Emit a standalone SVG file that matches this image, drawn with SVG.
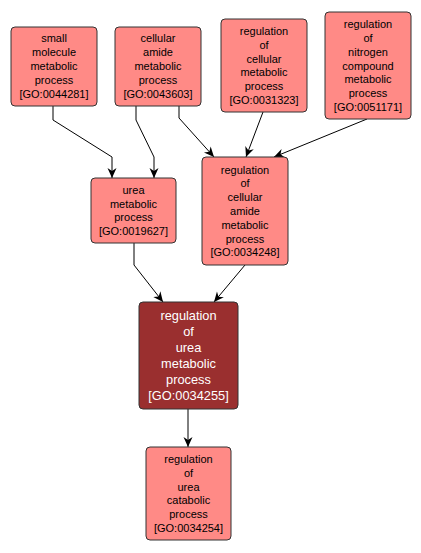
<svg xmlns="http://www.w3.org/2000/svg" width="421" height="553" viewBox="0 0 421 553">
<defs>
<style>
.n rect{fill:#ff8a86;stroke:#333;stroke-width:1}
.n text{font-family:"Liberation Sans",Arial,sans-serif;font-size:11px;fill:#000;text-anchor:middle}
.m rect{fill:#9a2f2f;stroke:#333;stroke-width:1}
.m text{font-family:"Liberation Sans",Arial,sans-serif;font-size:12.8px;fill:#fff;text-anchor:middle}
.e path{fill:none;stroke:#000;stroke-width:1;marker-end:url(#ah)}
</style>
<marker id="ah" markerUnits="userSpaceOnUse" viewBox="-11 -6 12 12" refX="0" refY="0" markerWidth="12" markerHeight="12" orient="auto">
<path d="M0,0 L-10,-4.5 L-7,0 L-10,4.5 Z" fill="#000"/>
</marker>
</defs>
<rect width="421" height="553" fill="#fff"/>
<g id="edges" class="e">
<path d="M53,105 L53,120 L112,157 L112,178"/>
<path d="M136,105 L136,120 L154,157 L154,178"/>
<path d="M179,105 L179,118 L214,157"/>
<path d="M263,112 L246,157"/>
<path d="M367,119 L274,157"/>
<path d="M134,243 L134,265 L163,302"/>
<path d="M245,265 L214,302"/>
<path d="M188,409 L188,447"/>
</g>
<g id="GO0044281" class="n">
<rect x="11" y="27" width="86" height="79" rx="4"/>
<text><tspan x="54" y="42.4">small</tspan><tspan x="54" y="56.2">molecule</tspan><tspan x="54" y="70">metabolic</tspan><tspan x="54" y="83.8">process</tspan><tspan x="54" y="97.6">[GO:0044281]</tspan></text>
</g>
<g id="GO0043603" class="n">
<rect x="115" y="27" width="86" height="79" rx="4"/>
<text><tspan x="158" y="42.4">cellular</tspan><tspan x="158" y="56.2">amide</tspan><tspan x="158" y="70">metabolic</tspan><tspan x="158" y="83.8">process</tspan><tspan x="158" y="97.6">[GO:0043603]</tspan></text>
</g>
<g id="GO0031323" class="n">
<rect x="221" y="19" width="86" height="93" rx="4"/>
<text><tspan x="264" y="35">regulation</tspan><tspan x="264" y="48.8">of</tspan><tspan x="264" y="62.6">cellular</tspan><tspan x="264" y="76.4">metabolic</tspan><tspan x="264" y="90.2">process</tspan><tspan x="264" y="104">[GO:0031323]</tspan></text>
</g>
<g id="GO0051171" class="n">
<rect x="325" y="12" width="86" height="107" rx="4"/>
<text><tspan x="368" y="28.1">regulation</tspan><tspan x="368" y="41.9">of</tspan><tspan x="368" y="55.7">nitrogen</tspan><tspan x="368" y="69.5">compound</tspan><tspan x="368" y="83.3">metabolic</tspan><tspan x="368" y="97.1">process</tspan><tspan x="368" y="110.9">[GO:0051171]</tspan></text>
</g>
<g id="GO0019627" class="n">
<rect x="91" y="178" width="85" height="65" rx="4"/>
<text><tspan x="133.5" y="193.8">urea</tspan><tspan x="133.5" y="207.6">metabolic</tspan><tspan x="133.5" y="221.4">process</tspan><tspan x="133.5" y="235.2">[GO:0019627]</tspan></text>
</g>
<g id="GO0034248" class="n">
<rect x="202" y="157" width="86" height="108" rx="4"/>
<text><tspan x="245" y="173.6">regulation</tspan><tspan x="245" y="187.4">of</tspan><tspan x="245" y="201.2">cellular</tspan><tspan x="245" y="215">amide</tspan><tspan x="245" y="228.8">metabolic</tspan><tspan x="245" y="242.6">process</tspan><tspan x="245" y="256.4">[GO:0034248]</tspan></text>
</g>
<g id="GO0034255" class="m">
<rect x="139" y="302" width="99" height="107" rx="4"/>
<text><tspan x="188.5" y="319.9">regulation</tspan><tspan x="188.5" y="336">of</tspan><tspan x="188.5" y="352.1">urea</tspan><tspan x="188.5" y="368.2">metabolic</tspan><tspan x="188.5" y="384.3">process</tspan><tspan x="188.5" y="400.4">[GO:0034255]</tspan></text>
</g>
<g id="GO0034254" class="n">
<rect x="146" y="447" width="85" height="93" rx="4"/>
<text><tspan x="188.5" y="463">regulation</tspan><tspan x="188.5" y="476.8">of</tspan><tspan x="188.5" y="490.6">urea</tspan><tspan x="188.5" y="504.4">catabolic</tspan><tspan x="188.5" y="518.2">process</tspan><tspan x="188.5" y="532">[GO:0034254]</tspan></text>
</g>
</svg>
